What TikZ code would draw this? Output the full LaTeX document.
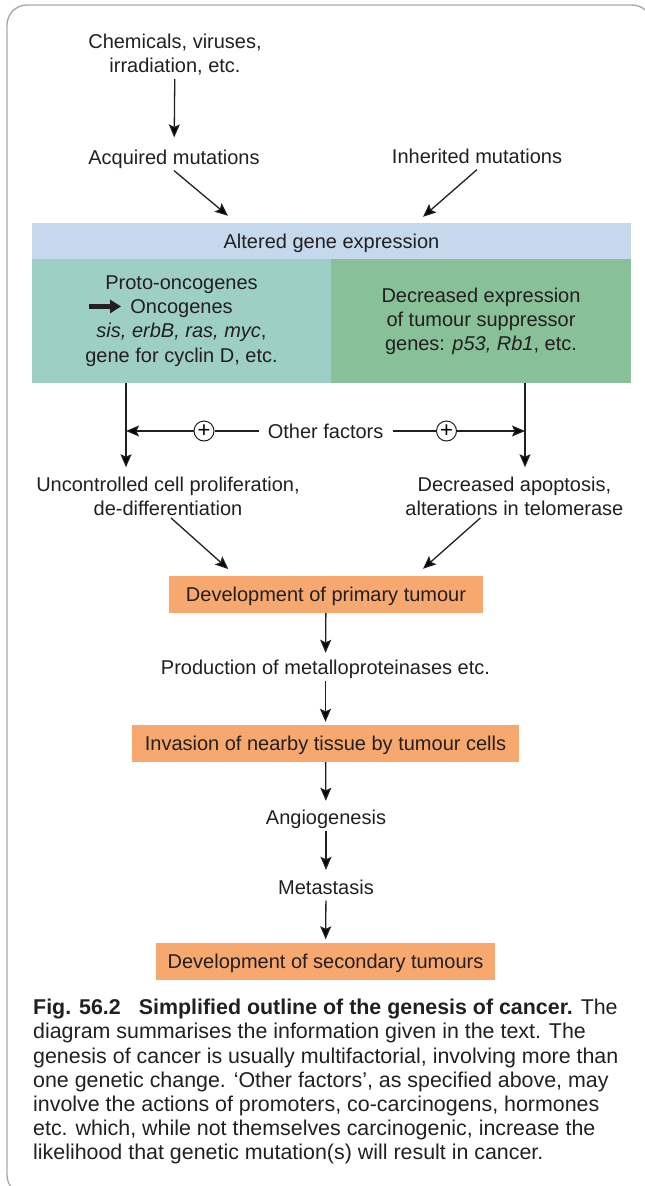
\documentclass[tikz,border=0pt]{standalone}
\usepackage{fontspec}
\setmainfont{Liberation Sans}
\usepackage{tikz}
\usetikzlibrary{arrows.meta,shapes}
\usetikzlibrary{positioning}
\definecolor{altblue}{RGB}{197,216,236}
\definecolor{oncteal}{RGB}{158,207,196}
\definecolor{tsggreen}{RGB}{136,192,151}
\definecolor{tumour}{RGB}{246,168,110}
\definecolor{ink}{RGB}{35,31,32}
\definecolor{framegray}{RGB}{170,170,170}
\tikzstyle{lbl}=[align=center, inner sep=2pt, text=ink]
\tikzstyle{lbl1}=[lbl, text height=14.6pt, text depth=4.2pt]
\tikzstyle{band}=[inner sep=0, minimum height=36pt, text=ink,
                text height=18.6pt, text depth=4.2pt]
\tikzstyle{gbox}=[align=center, inner sep=0, minimum height=124pt,
                minimum width=300pt, text=ink]
\tikzstyle{tbox}=[fill=tumour, inner sep=0, minimum height=37pt, text=ink,
                text height=18.6pt, text depth=4.2pt]
\tikzstyle{oplus}=[circle, draw=ink, line width=1pt, fill=white, inner sep=0,
                minimum size=20pt, font=\fontsize{22}{22}\selectfont]
\tikzstyle{conn}=[->, draw=ink, line width=1.3pt]
\tikzstyle{plain}=[draw=ink, line width=1.3pt]

\begin{document}
\begin{tikzpicture}[x=1pt, y=-1pt, font=\fontsize{20}{24}\selectfont,
    >={Stealth[length=13pt,width=11pt,inset=2.5pt]}]
    \useasboundingbox (0,0) rectangle (645,1186);
    \draw[framegray, line width=1.4pt, rounded corners=20pt] (7,5) rectangle (652,1195);
    % causes
    \node[lbl] (chem) at (175,54.4) {Chemicals, viruses,\\irradiation, etc.};
    \node[lbl1] (acq) at (174,159) {Acquired mutations};
    \node[lbl1] (inh) at (477,158) {Inherited mutations};
    \node[band, fill=altblue, minimum width=599pt] (alt) at (331.5,241) {Altered gene expression};
    \node[gbox, fill=oncteal, font=\fontsize{20}{24.3}\selectfont] (onc) at (181.5,321)
      {Proto-oncogenes\\
       \llap{\tikz[baseline=-7.2pt]\draw[ink, line width=4.6pt,
         -{Triangle[length=11pt,width=13pt]}] (0,0) -- (32pt,0);\hspace{7pt}}Oncogenes\\
       \textit{sis, erbB, ras, myc},\\gene for cyclin D, etc.};
    \node[gbox, fill=tsggreen] (tsg) at (481,321)
      {Decreased expression\\of tumour suppressor\\genes: \textit{p53, Rb1}, etc.};
    % other factors
    \coordinate (lx) at (126,431);
    \coordinate (rx) at (525,431);
    \node[lbl, inner xsep=9pt] (other) at (325.6,431) {Other factors};
    \node[oplus] (pl1) at (204,431) {\raisebox{-1pt}{+}};
    \node[oplus] (pl2) at (446.5,431) {\raisebox{-1pt}{+}};
    \node[lbl] (prolif) at (168,496.4) {Uncontrolled cell proliferation,\\de-differentiation};
    \node[lbl] (apop) at (514.4,496.4) {Decreased apoptosis,\\alterations in telomerase};
    % tumour progression
    \node[tbox, minimum width=314pt] (prim) at (326,594.5) {Development of primary tumour};
    \node[lbl1] (mmp) at (325.5,669) {Production of metalloproteinases etc.};
    \node[tbox, minimum width=387pt] (inv) at (325.5,743.5) {Invasion of nearby tissue by tumour cells};
    \node[lbl1] (angio) at (326,819) {Angiogenesis};
    \node[lbl1] (meta) at (326,889) {Metastasis};
    \node[tbox, minimum width=339pt] (sec) at (325.5,961) {Development of secondary tumours};
    % caption
    \node[anchor=north west, inner sep=0, align=left, text=ink,
      font=\fontsize{21.4}{24.2}\selectfont] (cap) at (33,999)
      {\textbf{Fig. 56.2}\hspace{18pt}\textbf{Simplified outline of the genesis of cancer.} The\\
       diagram summarises the information given in the text. The\\
       genesis of cancer is usually multifactorial, involving more than\\
       one genetic change. ‘Other factors’, as specified above, may\\
       involve the actions of promoters, co-carcinogens, hormones\\
       etc. which, while not themselves carcinogenic, increase the\\
       likelihood that genetic mutation(s) will result in cancer.};
    % arrows
    \draw[conn, shorten <=2pt, shorten >=10pt] (chem) -- (acq);
    \draw[conn] (acq.south) -- ([xshift=-103.5pt,yshift=7pt]alt.north);
    \draw[conn] (inh.south) -- ([xshift=91.5pt,yshift=6pt]alt.north);
    \draw[conn, shorten >=7.6pt] (lx |- onc.south) -- (lx |- prolif.north);
    \draw[conn, shorten >=7.6pt] (rx |- tsg.south) -- (rx |- apop.north);
    \draw[plain] (other) -- (pl1);
    \draw[conn] (pl1) -- (lx);
    \draw[plain] (other) -- (pl2);
    \draw[conn] (pl2) -- (rx);
    \draw[conn] ([xshift=3pt]prolif.south) -- ([xshift=-97.7pt,yshift=6.7pt]prim.north);
    \draw[conn] ([xshift=-34pt]apop.south) -- ([xshift=97pt,yshift=7pt]prim.north);
    \draw[conn, shorten >=4.6pt] (prim) -- (mmp);
    \draw[conn, shorten >=3pt] (mmp) -- (inv);
    \draw[conn, shorten >=6.6pt] (inv) -- (angio);
    \draw[conn, shorten >=7.6pt] (angio) -- (meta);
    \draw[conn, shorten >=3pt] (meta) -- (sec);
\end{tikzpicture}
\end{document}
